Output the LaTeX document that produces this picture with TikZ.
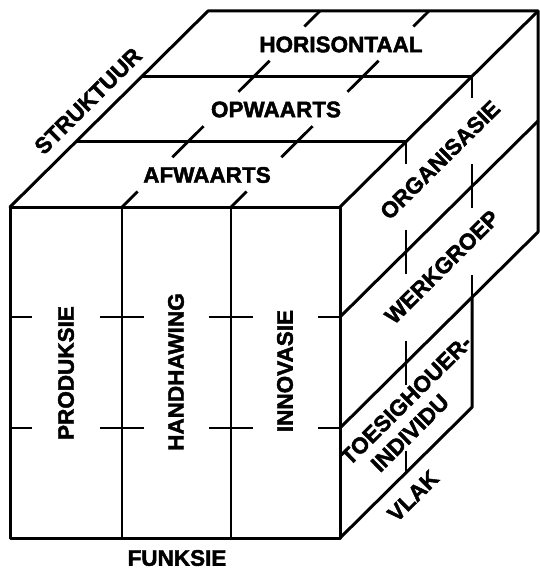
\documentclass[tikz,border=0pt]{standalone}
\usepackage{fontspec}
\setmainfont{Liberation Sans}
\newfontfamily\heavyfont[FakeBold=2]{Liberation Sans Bold}
\begin{document}
\begin{tikzpicture}[x=1pt,y=-1pt,
  edge/.style={line width=3pt, line cap=round, line join=round},
  divider/.style={line width=2.2pt},
  layerline/.style={line width=2.6pt},
  tick/.style={line width=2.8pt},
  lbl/.style={font=\heavyfont\fontsize{22.5}{24}\selectfont, inner sep=0pt}]
\useasboundingbox (0,0) rectangle (539,569);
% named corners
\coordinate (FTL) at (10,207);
\coordinate (FTR) at (340,207);
\coordinate (FBL) at (10,538);
\coordinate (FBR) at (340,538);
\coordinate (BTL) at (208,11);
\coordinate (BTR) at (538,11);
\coordinate (BMR) at (538,232);
% front face
\draw[edge] (FTL) rectangle (FBR);
\draw[divider] (122,207) -- (122,538) (231,207) -- (231,538);
% top face
\draw[edge] (FTL) -- (BTL) -- (BTR) -- (BMR) -- (340,428);
\draw[edge] (FTR) -- (BTR);
\draw[layerline] (76,141.67) -- (406,141.67) (142,76.33) -- (472,76.33);
% right face
\draw[edge] (340,317) -- (538,121);
\draw[edge] (FBR) -- (472,407.33) -- (472,297.33);
% front ticks
\foreach \y in {317,428} {
  \draw[tick] (10,\y) -- (32,\y);
  \draw[tick] (100,\y) -- (144,\y);
  \draw[tick] (209,\y) -- (253,\y);
  \draw[tick] (318,\y) -- (340,\y);
}
% top ticks
\foreach \x in {122,231} {
  \draw[tick] (\x,207) -- ++(15.6,-15.5);
  \foreach \k in {1,2}
    \draw[tick] ({\x+66*\k-15.6},{207-65.33*\k+15.5}) -- ++(31.2,-31);
  \draw[tick] ({\x+198},11) -- ++(-15.6,15.5);
}
% right ticks
\foreach \k/\x in {1/406,2/472} {
  \draw[tick] (\x,{207-65.33*\k}) -- ++(0,22);
  \draw[tick] (\x,{317-65.33*\k-22}) -- ++(0,44);
}
\draw[tick] (406,{428-65.33-22}) -- ++(0,44);
\draw[tick] (472,{428-130.67-22}) -- ++(0,22);
\draw[tick] (406,{538-65.33}) -- ++(0,-22);
% labels
\node[lbl] (hor) at (341,44.5) {HORISONTAAL};
\node[lbl] (opw) at (276,109.5) {OPWAARTS};
\node[lbl] (afw) at (207,175) {AFWAARTS};
\node[lbl, rotate=90] (pro) at (66,373) {PRODUKSIE};
\node[lbl, rotate=90] (han) at (176,372) {HANDHAWING};
\node[lbl, rotate=90] (inn) at (285,371) {INNOVASIE};
\node[lbl, rotate=44.7] (org) at (440,160) {ORGANISASIE};
\node[lbl, rotate=44.7] (wer) at (442,267) {WERKGROEP};
\node[lbl, rotate=44.7] (toe) at (406,400) {TOESIGHOUER-};
\node[lbl, rotate=44.7] (ind) at (410,433) {INDIVIDU};
\node[lbl, rotate=44.7] (vla) at (413,496) {VLAK};
\node[lbl, rotate=44.7] (str) at (88,101) {STRUKTUUR};
\node[lbl] (fun) at (177,558) {FUNKSIE};
\end{tikzpicture}
\end{document}
